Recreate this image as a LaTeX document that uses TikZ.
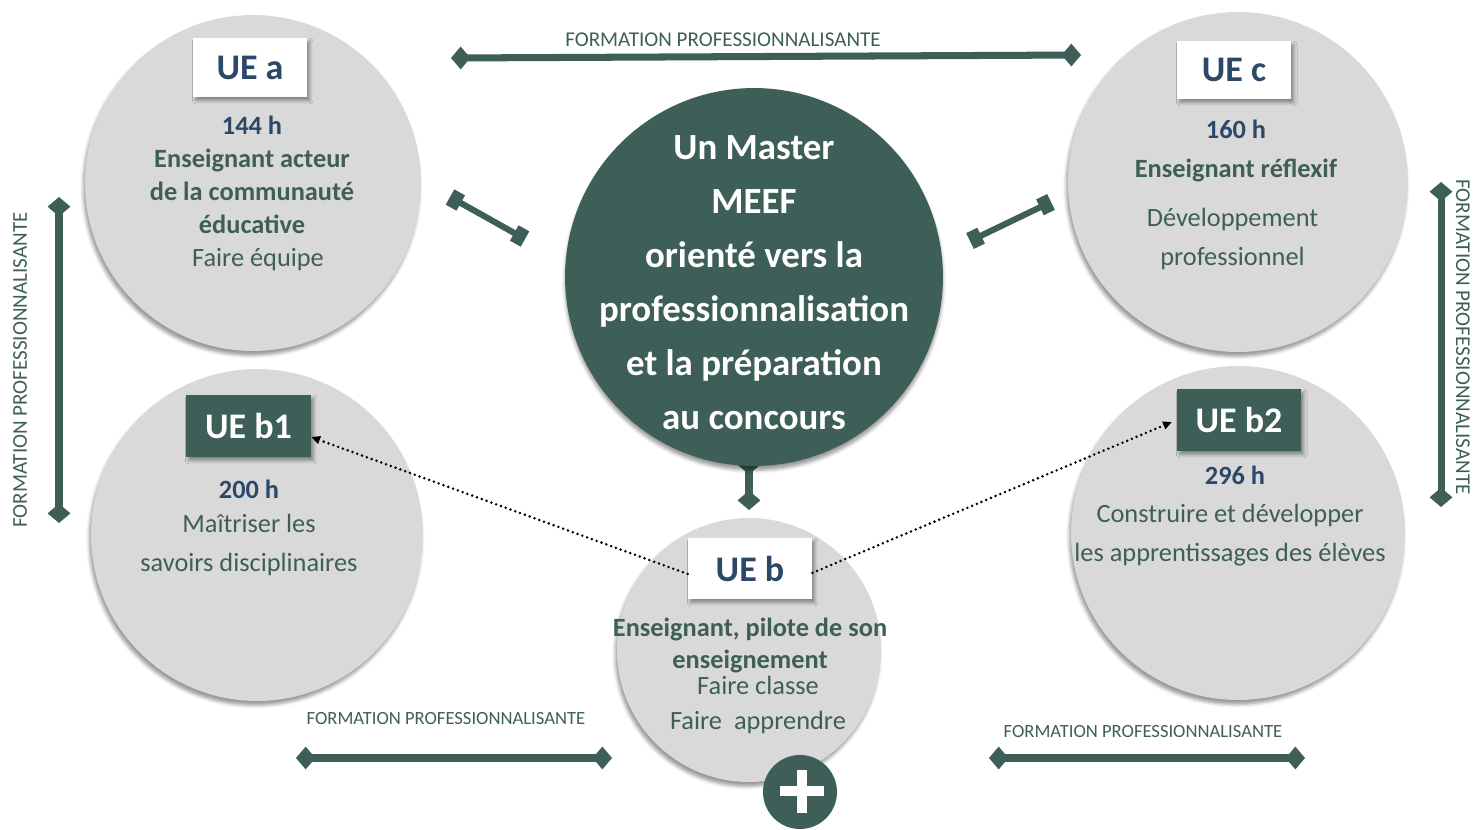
\documentclass[tikz,border=0pt]{standalone}
\usepackage{fontspec}
\setmainfont{Carlito}
\usepackage{xcolor}
\usepackage{tikz}
\usetikzlibrary{arrows.meta,shadows.blur}
\definecolor{vertfonce}{RGB}{62,94,88}
\definecolor{grisclair}{RGB}{217,217,217}
\definecolor{bleuue}{RGB}{44,72,104}

\tikzset{
	bulle/.style={circle, fill=grisclair, inner sep=0pt, blur shadow={shadow xshift=-1pt, shadow yshift=-2.5pt}},
	etiquette/.style={fill=white, text=bleuue, inner sep=0pt, font=\bfseries\fontsize{20.5}{24}\selectfont, blur shadow={shadow xshift=1.5pt, shadow yshift=-2pt}},
	etiquettefoncee/.style={etiquette, fill=vertfonce, text=white},
	texte/.style={align=center, text=vertfonce, font=\fontsize{15}{22.2}\selectfont},
	barre/.style={vertfonce, line width=4pt, {Diamond[length=11pt,width=13pt]}-{Diamond[length=11pt,width=13pt]}},
	os/.style={vertfonce, line width=3.5pt, {Square[length=7pt,width=10pt]}-{Square[length=7pt,width=10pt]}},
	formation/.style={text=vertfonce, inner sep=0pt, font=\fontsize{12}{14}\selectfont},
	pointille/.style={line width=1.6pt, line cap=round, dash pattern=on 0pt off 2.9pt, -{Triangle[length=5pt,width=4.5pt]}}
}

\begin{document}
\begin{tikzpicture}[x=0.02cm, y=-0.02cm]
	\useasboundingbox (0,0) rectangle (1474,829);

	% les bulles grises
	\node[bulle, minimum size=6.72cm] (uea) at (253,183) {};
	\node[bulle, minimum size=6.8cm] (uec) at (1238,182) {};
	\node[bulle, minimum size=6.64cm] (ueba) at (257,535) {};
	\node[bulle, minimum size=6.68cm] (uebb) at (1238,533) {};

	% le lien vers l'UE b, sous le cercle central
	\coordinate (lienhaut) at (749,455);
	\coordinate (lienbas) at (749,510);
	\draw[barre] (lienhaut) -- (lienbas);

	\node[circle, fill=vertfonce, minimum size=7.56cm, blur shadow={shadow xshift=0pt, shadow yshift=-2.5pt}] (centre) at (754,277) {};
	\node[bulle, minimum size=5.28cm] (ueb) at (749,650) {};
	\node[circle, fill=vertfonce, minimum size=1.48cm] (plus) at (800,792) {};
	\draw[white, line width=6pt] (802,770) -- (802,813) (780,791) -- (824,791);

	% les etiquettes
	\node[etiquette, minimum width=2.28cm, minimum height=1.18cm] (etqa) at (250,67.5) {UE a};
	\node[etiquette, minimum width=2.28cm, minimum height=1.16cm] (etqc) at (1234,70) {UE c};
	\node[etiquettefoncee, minimum width=2.5cm, minimum height=1.24cm] (etqba) at (248.5,426) {UE b1};
	\node[etiquettefoncee, minimum width=2.48cm, minimum height=1.24cm] (etqbb) at (1239,420) {UE b2};
	\node[etiquette, minimum width=2.48cm, minimum height=1.22cm] (etqb) at (750,568.5) {UE b};

	% les textes
	\node[texte, font=\fontsize{15}{18.8}\selectfont] (txta) at (252,193) {{\bfseries\color{bleuue}144 h}\\ {\bfseries Enseignant acteur}\\ {\bfseries de la communauté}\\ {\bfseries éducative}\\ \hspace*{0.24cm}Faire équipe};
	\node[texte] (txtc) at (1236,195) {{\bfseries\color{bleuue}160 h}\\ {\bfseries Enseignant réflexif}\\[5.7pt] \hspace*{-0.14cm}Développement\\ \hspace*{-0.14cm}professionnel};
	\node[texte] (txtba) at (249,528) {{\bfseries\color{bleuue}200 h}\\[-2.8pt] Maîtriser les\\ savoirs disciplinaires};
	\node[texte] (txtbb) at (1230,516) {\hspace*{0.2cm}{\bfseries\color{bleuue}296 h}\\[-1.1pt] Construire et développer\\ les apprentissages des élèves};
	\node[texte, font=\bfseries\fontsize{15}{18.2}\selectfont] (txtb) at (750,645) {Enseignant, pilote de son\\ enseignement};
	\node[texte, font=\fontsize{15}{19.9}\selectfont] (txtbsous) at (758,705) {Faire classe\\ Faire\ \ apprendre};
	\node[align=center, text=white, font=\bfseries\fontsize{21}{30.7}\selectfont] (txtcentre) at (754,283) {Un Master\\ MEEF\\ orienté vers la\\ professionnalisation\\ et la préparation\\ au concours};

	% formation professionnalisante
	\coordinate (hautg) at (451,58);
	\coordinate (hautd) at (1081,55);
	\draw[barre] (hautg) -- (hautd);
	\node[formation] (fhaut) at (723,40) {FORMATION PROFESSIONNALISANTE};

	\coordinate (gaucheh) at (59,197);
	\coordinate (gaucheb) at (59,523);
	\draw[barre] (gaucheh) -- (gaucheb);
	\node[formation, rotate=90] (fgauche) at (20,370) {FORMATION PROFESSIONNALISANTE};

	\coordinate (droiteh) at (1441,182);
	\coordinate (droiteb) at (1441,507);
	\draw[barre] (droiteh) -- (droiteb);
	\node[formation, rotate=-90] (fdroite) at (1463,337) {FORMATION PROFESSIONNALISANTE};

	\coordinate (basgg) at (296,758);
	\coordinate (basgd) at (612,758);
	\draw[barre] (basgg) -- (basgd);
	\node[formation, font=\fontsize{10.6}{12}\selectfont] (fbasg) at (446,719) {FORMATION PROFESSIONNALISANTE};

	\coordinate (basdg) at (989,758);
	\coordinate (basdd) at (1305,758);
	\draw[barre] (basdg) -- (basdd);
	\node[formation, font=\fontsize{10.6}{12}\selectfont] (fbasd) at (1143,732) {FORMATION PROFESSIONNALISANTE};

	% les os vers le centre
	\coordinate (osah) at (450,197);
	\coordinate (osab) at (525,239);
	\draw[os] (osah) -- (osab);
	\coordinate (osch) at (1051,202);
	\coordinate (oscb) at (970,241);
	\draw[os] (osch) -- (oscb);

	% les fleches en pointille
	\draw[pointille] (etqb.185) -- (etqba.-10);
	\draw[pointille, shorten >=3pt] (etqb.-4) -- (etqbb.west);
\end{tikzpicture}
\end{document}
